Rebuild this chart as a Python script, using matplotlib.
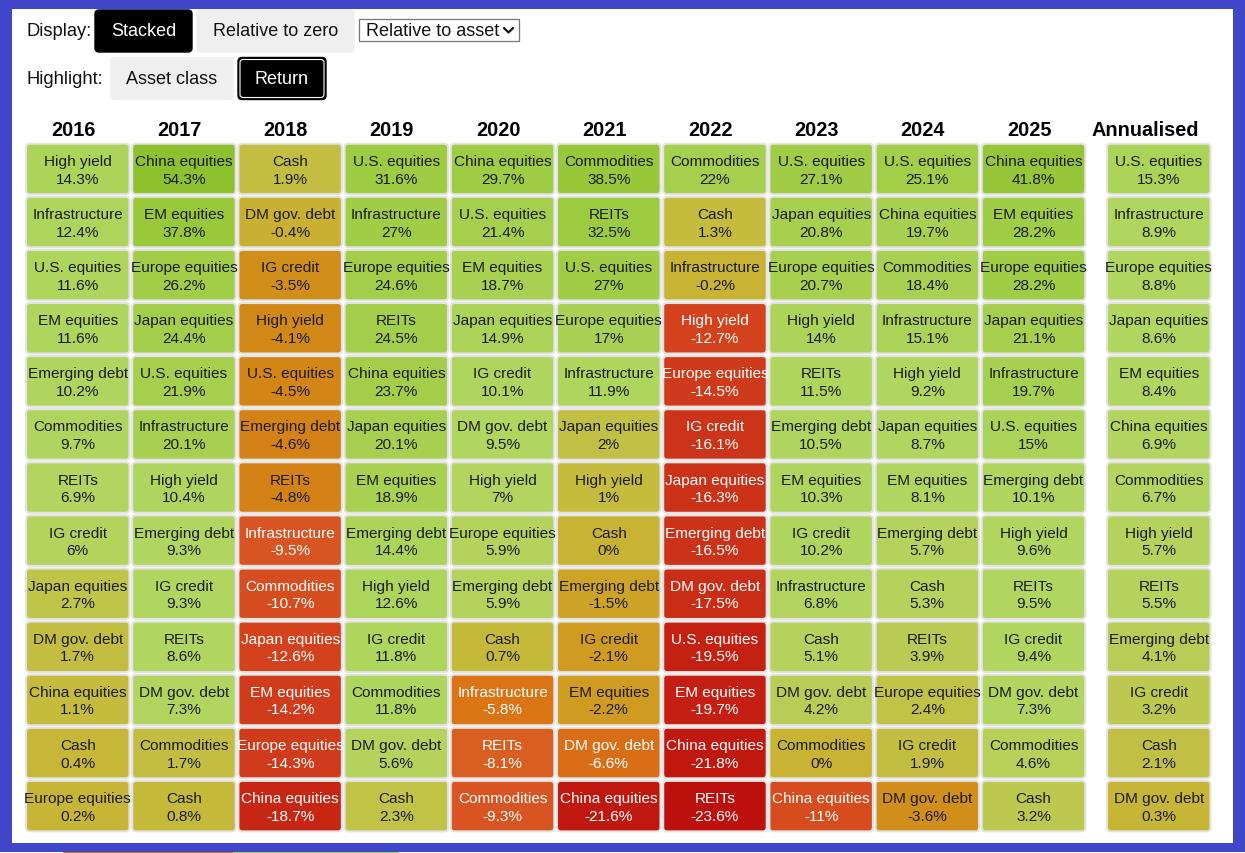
import matplotlib.pyplot as plt
from matplotlib.patches import FancyBboxPatch, Rectangle
from matplotlib.colors import LinearSegmentedColormap, Normalize

plt.rcParams['font.family'] = ['Liberation Sans', 'DejaVu Sans']

# Річні дохідності класів активів (відсортовані зверху вниз)
years = ['2016', '2017', '2018', '2019', '2020', '2021', '2022',
         '2023', '2024', '2025', 'Annualised']

assets = [
    ['High yield', 'Infrastructure', 'U.S. equities', 'EM equities', 'Emerging debt', 'Commodities',
     'REITs', 'IG credit', 'Japan equities', 'DM gov. debt', 'China equities', 'Cash', 'Europe equities'],
    ['China equities', 'EM equities', 'Europe equities', 'Japan equities', 'U.S. equities', 'Infrastructure',
     'High yield', 'Emerging debt', 'IG credit', 'REITs', 'DM gov. debt', 'Commodities', 'Cash'],
    ['Cash', 'DM gov. debt', 'IG credit', 'High yield', 'U.S. equities', 'Emerging debt',
     'REITs', 'Infrastructure', 'Commodities', 'Japan equities', 'EM equities', 'Europe equities', 'China equities'],
    ['U.S. equities', 'Infrastructure', 'Europe equities', 'REITs', 'China equities', 'Japan equities',
     'EM equities', 'Emerging debt', 'High yield', 'IG credit', 'Commodities', 'DM gov. debt', 'Cash'],
    ['China equities', 'U.S. equities', 'EM equities', 'Japan equities', 'IG credit', 'DM gov. debt',
     'High yield', 'Europe equities', 'Emerging debt', 'Cash', 'Infrastructure', 'REITs', 'Commodities'],
    ['Commodities', 'REITs', 'U.S. equities', 'Europe equities', 'Infrastructure', 'Japan equities',
     'High yield', 'Cash', 'Emerging debt', 'IG credit', 'EM equities', 'DM gov. debt', 'China equities'],
    ['Commodities', 'Cash', 'Infrastructure', 'High yield', 'Europe equities', 'IG credit',
     'Japan equities', 'Emerging debt', 'DM gov. debt', 'U.S. equities', 'EM equities', 'China equities', 'REITs'],
    ['U.S. equities', 'Japan equities', 'Europe equities', 'High yield', 'REITs', 'Emerging debt',
     'EM equities', 'IG credit', 'Infrastructure', 'Cash', 'DM gov. debt', 'Commodities', 'China equities'],
    ['U.S. equities', 'China equities', 'Commodities', 'Infrastructure', 'High yield', 'Japan equities',
     'EM equities', 'Emerging debt', 'Cash', 'REITs', 'Europe equities', 'IG credit', 'DM gov. debt'],
    ['China equities', 'EM equities', 'Europe equities', 'Japan equities', 'Infrastructure', 'U.S. equities',
     'Emerging debt', 'High yield', 'REITs', 'IG credit', 'DM gov. debt', 'Commodities', 'Cash'],
    ['U.S. equities', 'Infrastructure', 'Europe equities', 'Japan equities', 'EM equities', 'China equities',
     'Commodities', 'High yield', 'REITs', 'Emerging debt', 'IG credit', 'Cash', 'DM gov. debt'],
]

returns = [
    [14.3, 12.4, 11.6, 11.6, 10.2, 9.7, 6.9, 6, 2.7, 1.7, 1.1, 0.4, 0.2],
    [54.3, 37.8, 26.2, 24.4, 21.9, 20.1, 10.4, 9.3, 9.3, 8.6, 7.3, 1.7, 0.8],
    [1.9, -0.4, -3.5, -4.1, -4.5, -4.6, -4.8, -9.5, -10.7, -12.6, -14.2, -14.3, -18.7],
    [31.6, 27, 24.6, 24.5, 23.7, 20.1, 18.9, 14.4, 12.6, 11.8, 11.8, 5.6, 2.3],
    [29.7, 21.4, 18.7, 14.9, 10.1, 9.5, 7, 5.9, 5.9, 0.7, -5.8, -8.1, -9.3],
    [38.5, 32.5, 27, 17, 11.9, 2, 1, 0, -1.5, -2.1, -2.2, -6.6, -21.6],
    [22, 1.3, -0.2, -12.7, -14.5, -16.1, -16.3, -16.5, -17.5, -19.5, -19.7, -21.8, -23.6],
    [27.1, 20.8, 20.7, 14, 11.5, 10.5, 10.3, 10.2, 6.8, 5.1, 4.2, 0, -11],
    [25.1, 19.7, 18.4, 15.1, 9.2, 8.7, 8.1, 5.7, 5.3, 3.9, 2.4, 1.9, -3.6],
    [41.8, 28.2, 28.2, 21.1, 19.7, 15, 10.1, 9.6, 9.5, 9.4, 7.3, 4.6, 3.2],
    [15.3, 8.9, 8.8, 8.6, 8.4, 6.9, 6.7, 5.7, 5.5, 4.1, 3.2, 2.1, 0.3],
]

# Кольорова шкала: дохідність -> колір
scale_stops = [-24, -20, -16, -12, -9, -6, -4.5, -3, -1.5, 0, 1.5, 3, 5, 8, 14, 22, 30, 42, 55]
scale_colors = ['#bc0e0c', '#c41f12', '#cd3519', '#d4461d', '#d95824', '#da7414', '#d38516',
                '#d0931b', '#cea628', '#c7b434', '#c4bd40', '#bec74c', '#b6d15c', '#b1d660',
                '#acd45a', '#a5cf4c', '#9ecc43', '#96c637', '#8dc12c']
lo, hi = scale_stops[0], scale_stops[-1]
cmap = LinearSegmentedColormap.from_list(
    'ret', [((s - lo) / (hi - lo), c) for s, c in zip(scale_stops, scale_colors)])
norm = Normalize(lo, hi)

W, H = 1245, 854
fig = plt.figure(figsize=(W / 100, H / 100), dpi=100)
ax = fig.add_axes([0, 0, 1, 1])
ax.set_xlim(0, W)
ax.set_ylim(H, 0)
ax.axis('off')

# Синя рамка
frame = '#3f46c9'
ax.add_patch(Rectangle((0, 1), W, 9, color=frame, lw=0))
ax.add_patch(Rectangle((0, 1), 12, 851, color=frame, lw=0))
ax.add_patch(Rectangle((1233, 1), 12, 851, color=frame, lw=0))
ax.add_patch(Rectangle((0, 844), W, 8.5, color=frame, lw=0))
ax.add_patch(Rectangle((63, 852.5), 170, 2, color='#cf6a1c', lw=0))
ax.add_patch(Rectangle((233, 852.5), 166, 2, color='#a9cf4e', lw=0))


def button(x, y, w, h, label, dark, outline=False):
    fc = 'black' if dark else '#efefef'
    ax.add_patch(FancyBboxPatch((x, y), w, h, boxstyle='round,pad=0,rounding_size=4',
                                fc=fc, ec='black' if outline else fc, lw=1))
    if outline:
        ax.add_patch(FancyBboxPatch((x + 2, y + 2), w - 4, h - 4,
                                    boxstyle='round,pad=0,rounding_size=3',
                                    fc='none', ec='white', lw=0.8))
    ax.text(x + w / 2, y + h / 2 + 4.5, label, ha='center', va='baseline', fontsize=13,
            color='white' if dark else '#111111')


# Панель керування
ax.text(26, 35.5, 'Display:', ha='left', va='baseline', fontsize=13.2, color='#111111')
button(95, 11, 97, 42, 'Stacked', True)
button(197, 11, 157, 42, 'Relative to zero', False)
ax.add_patch(Rectangle((359, 19.5), 160, 22.5, fc='white', ec='#767676', lw=0.9))
ax.text(366, 35.5, 'Relative to asset', ha='left', va='baseline', fontsize=13, color='#111111')
ax.plot([504, 508.5, 513], [29, 33.5, 29], color='#111111', lw=1.6, solid_capstyle='round')

ax.text(26, 84, 'Highlight:', ha='left', va='baseline', fontsize=13.2, color='#111111')
button(111, 58.5, 122, 42, 'Asset class', False)
button(238, 58.5, 88, 42, 'Return', True, outline=True)

# Таблиця
col_w, row_h = 103.5, 50.5
pitch_x, pitch_y = 106.2, 53.1
top = 144.7
for i, yr in enumerate(years):
    x0 = 26 + i * pitch_x if i < 10 else 1107
    hx = x0 + col_w / 2 - (4.5 if i < 10 else 13)
    ax.text(hx, 136.5, yr, ha='center', va='baseline', fontsize=14.3,
            fontweight='bold', color='black')
    for j, (name, val) in enumerate(zip(assets[i], returns[i])):
        y0 = top + j * pitch_y
        ax.add_patch(FancyBboxPatch((x0, y0), col_w, row_h,
                                    boxstyle='round,pad=0,rounding_size=4',
                                    fc=cmap(norm(val)), ec='#e3e3e3', lw=1.5))
        tc = 'white' if val < -5 else '#1c1c1c'
        ax.text(x0 + col_w / 2, y0 + 21.3, name, ha='center', va='baseline',
                fontsize=11.1, color=tc)
        ax.text(x0 + col_w / 2, y0 + 38.8, f'{val:g}%', ha='center', va='baseline',
                fontsize=11.1, color=tc)

fig.savefig('out.png', dpi=100)
